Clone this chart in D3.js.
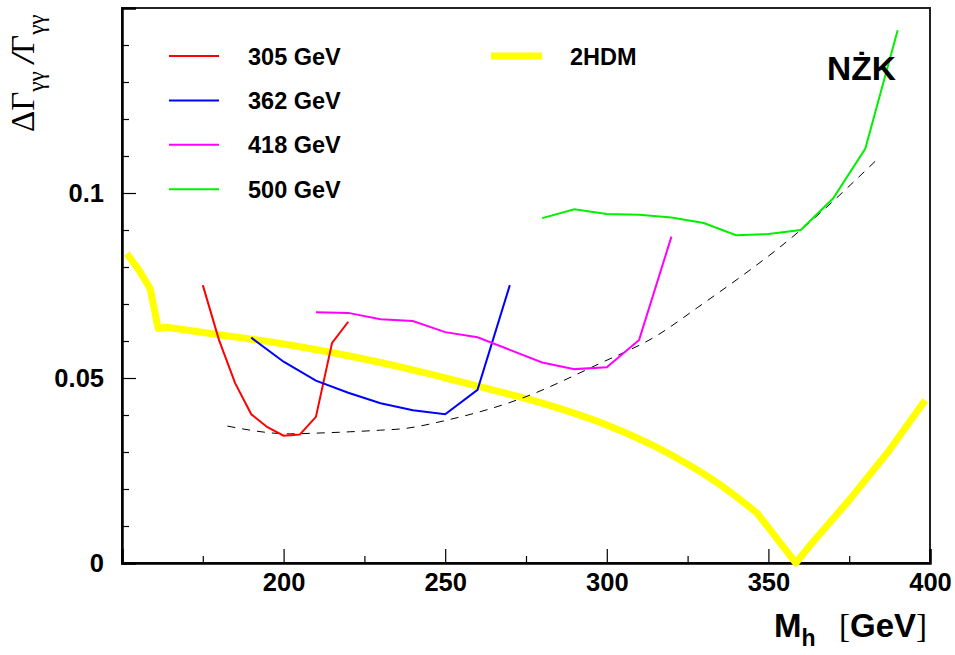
<!DOCTYPE html>
<html>
<head>
<meta charset="utf-8">
<script src="https://cdn.jsdelivr.net/npm/d3@7"></script>
<style>
  html, body { margin: 0; padding: 0; background: #fff; }
  svg { display: block; }
  .tick text { font-family: "Liberation Sans", Arial, sans-serif; font-weight: bold; }
</style>
</head>
<body>
<svg id="chart" width="955" height="655"></svg>
<script>
// Higgs mass grid for each H/A mass curve (GeV) and the corresponding ΔΓγγ/Γγγ
const mass305 = [175, 180, 185, 190, 195, 200, 205, 210, 215, 220];
const val305  = [0.0751, 0.0603, 0.0486, 0.0402, 0.0367, 0.0344, 0.0347, 0.0395, 0.0595, 0.0652];

const mass362 = [190, 200, 210, 220, 230, 240, 250, 260, 270];
const val362  = [0.0609, 0.0544, 0.0493, 0.0460, 0.0432, 0.0413, 0.0402, 0.0468, 0.0751];

const mass418 = [210, 220, 230, 240, 250, 260, 270, 280, 290, 300, 310, 320];
const val418  = [0.0678, 0.0676, 0.0659, 0.0654, 0.0624, 0.0610, 0.0576, 0.0542, 0.0524, 0.0529, 0.0603, 0.0882];

const mass500 = [280, 290, 300, 310, 320, 330, 340, 350, 360, 370, 380, 390];
const val500  = [0.0932, 0.0956, 0.0943, 0.0941, 0.0934, 0.0919, 0.0886, 0.0889, 0.0900, 0.0985, 0.1120, 0.1440];

// 2HDM reference curve: threshold region, falling branch, rising branch
const mass2HDMlow  = [151.5, 155, 158.7, 161.2, 163.8];
const val2HDMlow   = [0.0836, 0.0795, 0.0742, 0.0634, 0.0637];
const mass2HDMfall = [163.8, 180, 200, 220, 240, 260, 280, 300, 320, 335, 346.5];
const val2HDMfall  = [0.0637, 0.0617, 0.0592, 0.0560, 0.0522, 0.0478, 0.0432, 0.0373, 0.0292, 0.0212, 0.0135];
const mass2HDMrise = [346.5, 358.5, 362.5, 375, 387, 398.5];
const val2HDMrise  = [0.0135, 0.0, 0.0044, 0.0170, 0.0300, 0.0440];

// Statistical-limit envelope (dashed)
const massEnv = [182.6, 202, 210, 230, 237, 250, 273, 298, 315, 328, 360, 384.5];
const valEnv  = [0.0370, 0.0349, 0.0351, 0.0359, 0.0363, 0.0385, 0.0443, 0.0540, 0.0612, 0.0690, 0.0900, 0.1098];

// Axis ticks
const xMajor = [200, 250, 300, 350, 400];
const xMinor = [175, 225, 275, 325, 375];
const yMajor = [0, 0.05, 0.1];
const yMinor = [0.01, 0.02, 0.03, 0.04, 0.06, 0.07, 0.08, 0.09, 0.11, 0.12, 0.13, 0.14];

const legendNames = ["305 GeV", "362 GeV", "418 GeV", "500 GeV"];
const seriesColors = ["#ff0000", "#0000ff", "#ff00ff", "#00f000"];

const svg = d3.select("#chart");
const x = d3.scaleLinear().domain([150, 400]).range([122, 930]);
const y = d3.scaleLinear().domain([0, 0.15]).range([563, 8]);

// frame
svg.append("rect")
  .attr("x", x(150)).attr("y", y(0.15))
  .attr("width", x(400) - x(150)).attr("height", y(0) - y(0.15))
  .attr("fill", "none").attr("stroke", "#222").attr("stroke-width", 2);

// x axis
const xAxisMajor = d3.axisBottom(x).tickValues(xMajor).tickSize(-14).tickPadding(10)
  .tickFormat(d3.format("d"));
const gx = svg.append("g").attr("transform", `translate(0,${y(0)})`).call(xAxisMajor);
gx.select(".domain").attr("stroke", "#000").attr("stroke-width", 2.5);
gx.selectAll(".tick line").attr("stroke", "#000").attr("stroke-width", 1.2);
gx.selectAll(".tick text").attr("font-size", 25.5).attr("fill", "#000").attr("dy", "0.72em");
svg.append("g").attr("transform", `translate(0,${y(0)})`)
  .call(d3.axisBottom(x).tickValues(xMinor).tickSize(-7).tickFormat(""))
  .call(g => g.select(".domain").remove())
  .selectAll(".tick line").attr("stroke", "#000").attr("stroke-width", 1.2);

// y axis
const yAxisMajor = d3.axisLeft(y).tickValues(yMajor).tickSize(-14).tickPadding(18)
  .tickFormat(d => d === 0 ? "0" : String(d));
const gy = svg.append("g").attr("transform", `translate(${x(150)},0)`).call(yAxisMajor);
gy.select(".domain").attr("stroke", "#000").attr("stroke-width", 2.5);
gy.selectAll(".tick line").attr("stroke", "#000").attr("stroke-width", 1.2);
gy.selectAll(".tick text").attr("font-size", 25.5).attr("fill", "#000");
svg.append("g").attr("transform", `translate(${x(150)},0)`)
  .call(d3.axisLeft(y).tickValues(yMinor).tickSize(-7).tickFormat(""))
  .call(g => g.select(".domain").remove())
  .selectAll(".tick line").attr("stroke", "#000").attr("stroke-width", 1.2);

const zipped = (m, v) => m.map((d, i) => [d, v[i]]);
const lineLin = d3.line().x(d => x(d[0])).y(d => y(d[1]));
const lineSmooth = d3.line().x(d => x(d[0])).y(d => y(d[1])).curve(d3.curveMonotoneX);

// 2HDM thick yellow band
const yellowPath = lineLin(zipped(mass2HDMlow, val2HDMlow))
  + lineSmooth(zipped(mass2HDMfall, val2HDMfall)).replace(/^M/, "L")
  + lineLin(zipped(mass2HDMrise, val2HDMrise)).replace(/^M/, "L");
svg.append("path")
  .attr("d", yellowPath).attr("fill", "none").attr("stroke", "#ffff00")
  .attr("stroke-width", 7).attr("stroke-linejoin", "round");

// dashed envelope
svg.append("path").datum(zipped(massEnv, valEnv))
  .attr("d", lineSmooth).attr("fill", "none").attr("stroke", "#000")
  .attr("stroke-width", 1).attr("stroke-dasharray", "8,7");

const series = [[mass305, val305], [mass362, val362], [mass418, val418], [mass500, val500]];
series.forEach((s, i) => {
  svg.append("path").datum(zipped(s[0], s[1]))
    .attr("d", lineLin).attr("fill", "none").attr("stroke", seriesColors[i])
    .attr("stroke-width", 2);
});

// legend
const font = "Liberation Sans, Arial, sans-serif";
legendNames.forEach((name, i) => {
  const ly = 56 + i * 44.4;
  svg.append("line").attr("x1", 169).attr("x2", 219).attr("y1", ly).attr("y2", ly)
    .attr("stroke", seriesColors[i]).attr("stroke-width", 2);
  svg.append("text").attr("x", 248).attr("y", ly + 8.5).text(name)
    .attr("font-family", font).attr("font-weight", "bold").attr("font-size", 23.5).attr("fill", "#000");
});
svg.append("line").attr("x1", 491).attr("x2", 542).attr("y1", 56).attr("y2", 56)
  .attr("stroke", "#ffff00").attr("stroke-width", 7);
svg.append("text").attr("x", 570).attr("y", 65).text("2HDM")
  .attr("font-family", font).attr("font-weight", "bold").attr("font-size", 23.5).attr("fill", "#000");

// NŻK tag
svg.append("text").attr("x", 827).attr("y", 80).text("NŻK")
  .attr("font-family", font).attr("font-weight", "bold").attr("font-size", 33.5).attr("fill", "#000");

// x title
const xt = svg.append("text").attr("x", 774).attr("y", 637)
  .attr("font-family", font).attr("font-weight", "bold").attr("font-size", 33).attr("fill", "#000");
xt.append("tspan").text("M");
xt.append("tspan").text("h").attr("font-size", 23).attr("dy", 9);
xt.append("tspan").text("[").attr("x", 839).attr("dy", -9).attr("font-weight", "normal").attr("font-family", "Liberation Serif, serif");
xt.append("tspan").text("GeV");
xt.append("tspan").text("]").attr("font-weight", "normal").attr("font-family", "Liberation Serif, serif");

// y title
const yt = svg.append("text")
  .attr("transform", "translate(34,132) rotate(-90)")
  .attr("font-family", "Liberation Serif, Times New Roman, serif").attr("font-size", 33).attr("fill", "#000");
yt.append("tspan").text("ΔΓ");
yt.append("tspan").text("γγ").attr("font-size", 23).attr("dy", 10);
yt.append("tspan").text(" /").attr("dy", -10).attr("font-weight", "bold").attr("font-style", "italic");
yt.append("tspan").text("Γ");
yt.append("tspan").text("γγ").attr("font-size", 23).attr("dy", 10);
</script>
</body>
</html>
